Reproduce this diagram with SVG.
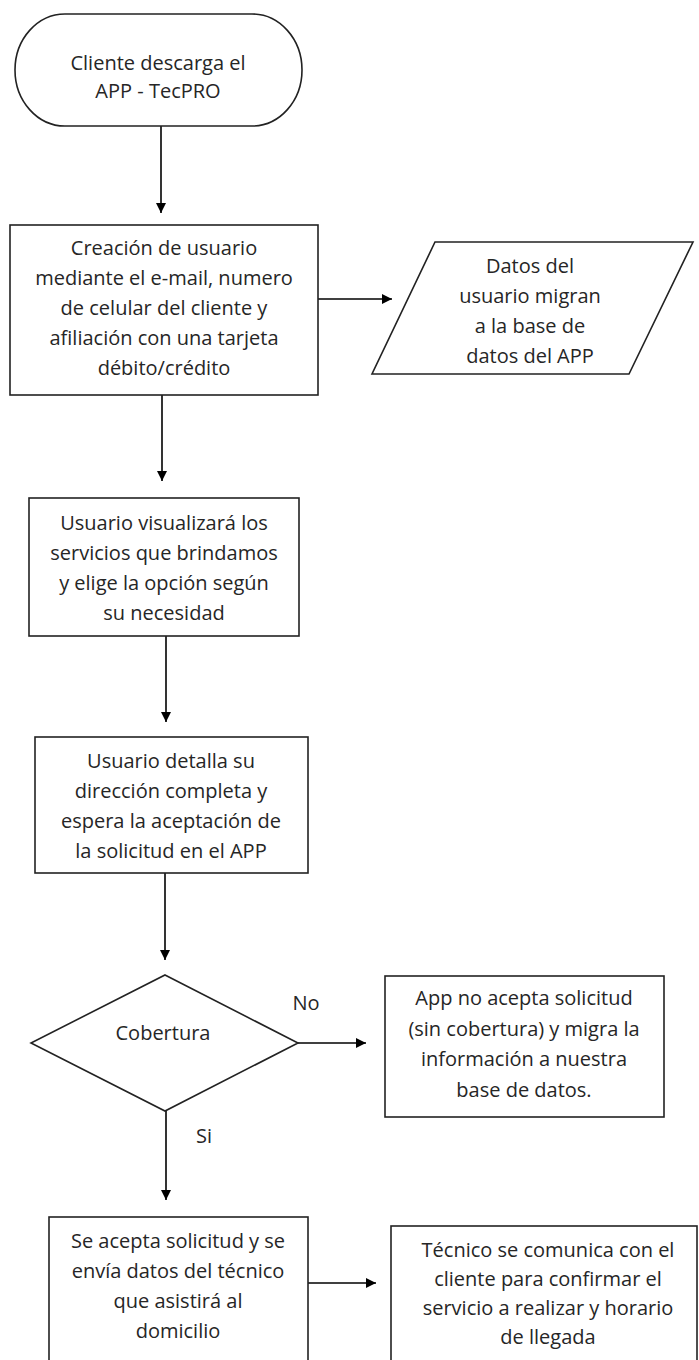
<svg xmlns="http://www.w3.org/2000/svg" width="699" height="1360" viewBox="0 0 699 1360">
<defs>
<marker id="ah" viewBox="0 0 10 10" refX="10" refY="5" markerWidth="10" markerHeight="10" markerUnits="userSpaceOnUse" orient="auto">
<path d="M0,0 L10,5 L0,10 z" fill="#000"/>
</marker>
</defs>
<style>
.s{fill:#fff;stroke:#222;stroke-width:1.6}
.t{font-family:"Open Sans","Noto Sans",sans-serif;font-size:20px;fill:#262626;text-anchor:middle}
.c{fill:none;stroke:#000;stroke-width:1.6;marker-end:url(#ah)}
</style>
<rect width="699" height="1360" fill="#fff"/>
<g id="connectors">
<line class="c" x1="161" y1="126" x2="161" y2="213"/>
<line class="c" x1="318" y1="299" x2="392" y2="299"/>
<line class="c" x1="162" y1="395" x2="162" y2="481"/>
<line class="c" x1="166" y1="636" x2="166" y2="722"/>
<line class="c" x1="165" y1="873" x2="165" y2="960"/>
<line class="c" x1="298" y1="1043" x2="366" y2="1043"/>
<line class="c" x1="166" y1="1111" x2="166" y2="1200"/>
<line class="c" x1="308" y1="1283" x2="376" y2="1283"/>
</g>
<g id="n-start">
<rect class="s" x="15" y="14" width="287" height="112" rx="50" ry="56"/>
<text class="t" x="158" y="70">Cliente descarga el</text>
<text class="t" x="158" y="98">APP - TecPRO</text>
</g>
<g id="n-registro">
<rect class="s" x="10" y="225" width="308" height="170"/>
<text class="t" x="164" y="255">Creación de usuario</text>
<text class="t" x="164" y="285">mediante el e-mail, numero</text>
<text class="t" x="164" y="315">de celular del cliente y</text>
<text class="t" x="164" y="345">afiliación con una tarjeta</text>
<text class="t" x="164" y="375">débito/crédito</text>
</g>
<g id="n-datos">
<polygon class="s" points="435,242 693,242 629,374 372,374"/>
<text class="t" x="530" y="273">Datos del</text>
<text class="t" x="530" y="303">usuario migran</text>
<text class="t" x="530" y="333">a la base de</text>
<text class="t" x="530" y="363">datos del APP</text>
</g>
<g id="n-servicios">
<rect class="s" x="29" y="498" width="270" height="138"/>
<text class="t" x="164" y="530">Usuario visualizará los</text>
<text class="t" x="164" y="560">servicios que brindamos</text>
<text class="t" x="164" y="590">y elige la opción según</text>
<text class="t" x="164" y="620">su necesidad</text>
</g>
<g id="n-direccion">
<rect class="s" x="35" y="737" width="273" height="136"/>
<text class="t" x="171" y="768">Usuario detalla su</text>
<text class="t" x="171" y="798">dirección completa y</text>
<text class="t" x="171" y="828">espera la aceptación de</text>
<text class="t" x="171" y="858">la solicitud en el APP</text>
</g>
<g id="n-cobertura">
<polygon class="s" points="165,975 298,1043 165,1111 31,1043"/>
<text class="t" x="163" y="1040">Cobertura</text>
</g>
<g id="labels">
<text class="t" x="306" y="1010">No</text>
<text class="t" x="204" y="1143">Si</text>
</g>
<g id="n-no">
<rect class="s" x="385" y="976" width="279" height="141"/>
<text class="t" x="524" y="1005">App no acepta solicitud</text>
<text class="t" x="524" y="1036">(sin cobertura) y migra la</text>
<text class="t" x="524" y="1066">información a nuestra</text>
<text class="t" x="524" y="1097">base de datos.</text>
</g>
<g id="n-acepta">
<rect class="s" x="49" y="1217" width="259" height="160"/>
<text class="t" x="178" y="1248">Se acepta solicitud y se</text>
<text class="t" x="178" y="1278">envía datos del técnico</text>
<text class="t" x="178" y="1308">que asistirá al</text>
<text class="t" x="178" y="1338">domicilio</text>
</g>
<g id="n-tecnico">
<rect class="s" x="391" y="1226" width="306" height="160"/>
<text class="t" x="548" y="1257">Técnico se comunica con el</text>
<text class="t" x="548" y="1286">cliente para confirmar el</text>
<text class="t" x="548" y="1315">servicio a realizar y horario</text>
<text class="t" x="548" y="1344">de llegada</text>
</g>
</svg>
